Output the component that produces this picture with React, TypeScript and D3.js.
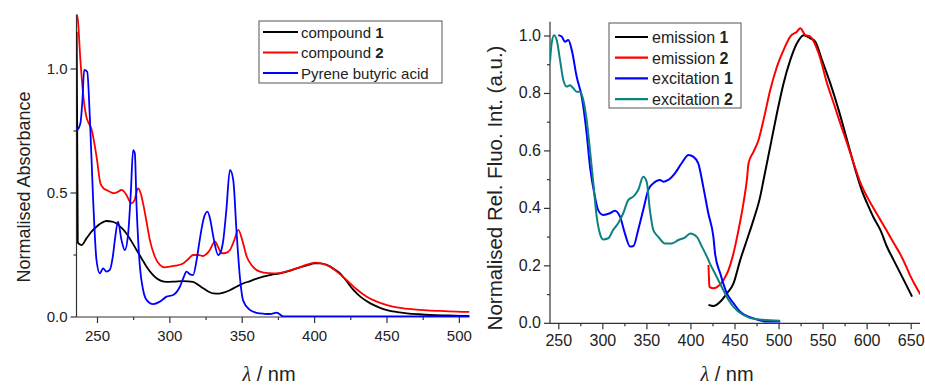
import React from "react";
import * as d3 from "d3";

// ---------- Left panel: absorbance ----------
const absCompound1: [number, number][] = [
  [235.6, 1.15], [236.4, 0.30], [239, 0.29], [242.4, 0.317], [246, 0.345], [249.3, 0.364], [253, 0.38], [256.2, 0.387],
  [260, 0.385], [263, 0.378], [266.5, 0.36], [270, 0.337], [273.5, 0.305], [277, 0.27], [280.5, 0.236], [283.9, 0.203],
  [287.5, 0.175], [290.8, 0.156], [294, 0.146], [297.7, 0.142], [303, 0.143], [309.2, 0.145], [316, 0.142], [319.5, 0.13],
  [323, 0.116], [326.5, 0.103], [330, 0.095], [334, 0.094], [337, 0.098], [341.4, 0.108], [346, 0.122], [350.5, 0.135],
  [355.5, 0.145], [360, 0.155], [364.5, 0.163], [370, 0.17], [376, 0.176], [382, 0.185], [387.6, 0.196], [394, 0.207],
  [400.3, 0.216], [404, 0.216], [408.4, 0.21], [413, 0.195], [417.6, 0.176], [422, 0.145], [426.8, 0.109], [432, 0.08],
  [438.5, 0.055], [444, 0.04], [450, 0.028], [457, 0.02], [463.8, 0.015], [472, 0.011], [479.8, 0.008], [492, 0.006], [507, 0.004],
];
const absCompound2: [number, number][] = [
  [235.7, 1.22], [236.4, 1.2], [238.2, 1.036], [240.5, 0.875], [242.3, 0.808], [244.6, 0.774], [246, 0.755], [247.4, 0.714],
  [249.7, 0.633], [252, 0.539], [254, 0.52], [256.2, 0.512], [258.5, 0.505], [260.8, 0.499], [263.5, 0.503], [266.6, 0.512],
  [268.5, 0.505], [270, 0.492], [273.5, 0.458], [275.5, 0.47], [278, 0.519], [279.8, 0.5], [281.5, 0.458], [284, 0.38],
  [286.2, 0.31], [289.5, 0.245], [293.1, 0.21], [296.5, 0.2], [300, 0.203], [304, 0.207], [309.2, 0.216], [313, 0.235],
  [316, 0.25], [319.5, 0.25], [323, 0.246], [327, 0.265], [331.2, 0.304], [333.5, 0.28], [335.8, 0.257], [338.5, 0.258],
  [341.5, 0.27], [344.5, 0.31], [347.3, 0.351], [350, 0.31], [353, 0.245], [357, 0.205], [362.2, 0.183], [368, 0.177],
  [373.7, 0.176], [380, 0.183], [387.6, 0.196], [394, 0.21], [400.3, 0.219], [405, 0.215], [410.7, 0.203], [416, 0.18],
  [422.2, 0.149], [429, 0.112], [436, 0.082], [443, 0.062], [450, 0.048], [459, 0.037], [468.4, 0.031], [478, 0.027],
  [489, 0.024], [498, 0.022], [507, 0.021],
];
const absPyrene: [number, number][] = [
  [235.8, 0.75], [238.2, 0.781], [239.6, 0.875], [240.8, 0.996], [242.9, 0.989], [244.7, 0.808], [247, 0.472], [249.3, 0.23],
  [251.6, 0.176], [253.9, 0.196], [256.2, 0.183], [258.5, 0.19], [260.5, 0.24], [262, 0.31], [264.2, 0.384], [266.6, 0.31],
  [268.9, 0.27], [271.2, 0.337], [273, 0.499], [274.6, 0.673], [275.8, 0.66], [277, 0.445], [278.2, 0.3], [279.3, 0.203],
  [281.5, 0.11], [283.9, 0.069], [288.5, 0.052], [293.1, 0.062], [297.7, 0.082], [302.3, 0.089], [306.9, 0.122], [309.5, 0.16],
  [311.5, 0.183], [314, 0.172], [316, 0.169], [318.5, 0.23], [320.6, 0.31], [323.5, 0.4], [326, 0.425], [328, 0.39],
  [330, 0.324], [333.4, 0.25], [335, 0.26], [336.9, 0.31], [339, 0.43], [341.5, 0.593], [343.8, 0.552], [346, 0.35],
  [348.4, 0.16], [350.7, 0.065], [355, 0.03], [360, 0.017], [365, 0.013], [369.2, 0.012], [373.8, 0.018], [378.4, 0.002],
  [400, 0.002], [507, 0.002],
];
const absLegend = ["compound ", "compound ", "Pyrene butyric acid"];
const absLegendBold = ["1", "2", ""];
const absColors = ["#000000", "#ff0000", "#0000ff"];
const absXTicks = [250, 300, 350, 400, 450, 500];
const absXMinor = [275, 325, 375, 425, 475];
const absYTicks = [0, 0.5, 1.0];
const absYMinor = [0.25, 0.75];

// ---------- Right panel: fluorescence ----------
const emission1: [number, number][] = [
  [419.9, 0.064], [425.6, 0.06], [433.2, 0.075], [440.8, 0.104], [448.3, 0.139], [455.9, 0.22], [463.5, 0.29], [471, 0.36],
  [478.6, 0.441], [482.4, 0.499], [490, 0.615], [497.6, 0.731], [505.1, 0.835], [512.7, 0.916], [520.3, 0.975], [527.9, 1.003],
  [535.5, 0.992], [541.2, 0.98], [548.8, 0.916], [558.2, 0.835], [567.7, 0.742], [577.2, 0.638], [586.6, 0.534], [594.2, 0.46],
  [599.9, 0.418], [607, 0.37], [615, 0.325], [622, 0.27], [630.1, 0.22], [641.5, 0.151], [651, 0.093],
];
const emission2: [number, number][] = [
  [419.9, 0.203], [420.5, 0.15], [421, 0.127], [425.6, 0.122], [431.3, 0.13], [437, 0.151], [442.7, 0.186], [448.3, 0.244],
  [454, 0.325], [459.7, 0.42], [463.5, 0.5], [465.4, 0.557], [471, 0.597], [476.7, 0.638], [482.4, 0.708], [490, 0.812],
  [497.6, 0.893], [505.1, 0.951], [512.7, 0.998], [520.3, 1.015], [524.1, 1.027], [529.8, 1.003], [535.5, 0.998], [544.9, 0.94],
  [554.5, 0.835], [562, 0.766], [569.5, 0.696], [577.2, 0.627], [584.7, 0.557], [592.3, 0.49], [600, 0.44], [607.4, 0.4],
  [615, 0.36], [622.6, 0.32], [630, 0.28], [637.7, 0.24], [644, 0.2], [649, 0.165], [655, 0.13], [660.5, 0.1],
];
const excitation1: [number, number][] = [
  [249.4, 1.003], [253.3, 0.998], [257, 0.98], [260.8, 0.986], [264.7, 0.951], [270.3, 0.858], [276, 0.789], [281.6, 0.661],
  [285.4, 0.545], [291, 0.441], [294.7, 0.394], [300.4, 0.377], [308, 0.383], [313.6, 0.392], [319.5, 0.371], [325, 0.313],
  [330.9, 0.267], [334.7, 0.269], [340.1, 0.325], [345.8, 0.394], [351.5, 0.464], [357.2, 0.487], [364.8, 0.499], [368.6, 0.493],
  [374.2, 0.499], [381.8, 0.522], [389.4, 0.557], [397.2, 0.586], [402.6, 0.58], [408.3, 0.557], [414, 0.475], [419.7, 0.383],
  [425.5, 0.3], [427.5, 0.24], [433.2, 0.174], [440.8, 0.104], [448.3, 0.07], [455.9, 0.04], [471, 0.017], [486.3, 0.006],
  [501.4, 0.006],
];
const excitation2: [number, number][] = [
  [240, 0.91], [241.9, 0.975], [244.5, 1.003], [247.6, 0.986], [251.4, 0.916], [255.1, 0.847], [259, 0.824], [262.7, 0.829],
  [266.5, 0.818], [270.3, 0.806], [274.1, 0.806], [277.8, 0.777], [281.6, 0.708], [285.4, 0.603], [289.2, 0.487], [293, 0.371],
  [296.6, 0.313], [300.4, 0.292], [306.1, 0.296], [311.7, 0.325], [317.4, 0.348], [323.1, 0.383], [328.8, 0.429], [334.5, 0.441],
  [340.1, 0.464], [345.8, 0.51], [349.7, 0.493], [353.4, 0.394], [357.2, 0.325], [362.9, 0.301], [370.5, 0.278], [378.3, 0.278],
  [385.8, 0.29], [393.4, 0.299], [399.1, 0.313], [406.7, 0.301], [412.4, 0.267], [418.1, 0.232], [422, 0.205], [427, 0.175],
  [436.7, 0.116], [442.7, 0.081], [448, 0.058], [459.4, 0.029], [474.5, 0.014], [501, 0.009],
];
const fluoLegend = ["emission ", "emission ", "excitation ", "excitation "];
const fluoLegendBold = ["1", "2", "1", "2"];
const fluoColors = ["#000000", "#ff0000", "#0000ff", "#0f8080"];
const fluoXTicks = [250, 300, 350, 400, 450, 500, 550, 600, 650];
const fluoXMinor = [275, 325, 375, 425, 475, 525, 575, 625];
const fluoYTicks = [0, 0.2, 0.4, 0.6, 0.8, 1.0];
const fluoYMinor = [0.1, 0.3, 0.5, 0.7, 0.9];

const SANS = "'Liberation Sans', Arial, Helvetica, sans-serif";
const SERIF = "'Liberation Serif', 'Times New Roman', serif";
const AXIS = "#333";

type Panel = {
  x: d3.ScaleLinear<number, number>;
  y: d3.ScaleLinear<number, number>;
  xTicks: number[];
  xMinor: number[];
  yTicks: number[];
  yMinor: number[];
  yFmt: (v: number) => string;
  tickFont: number;
  xLabelDy: number;
  yTitle: string;
  yTitleX: number;
  yTitleY: number;
  yTitleFont: number;
  xTitleX: number;
  xTitleY: number;
};

function Axes({ p }: { p: Panel }) {
  const [x0, x1] = p.x.range();
  const [y0, y1] = p.y.range();
  return (
    <g>
      <line x1={x0} x2={x1} y1={y0} y2={y0} stroke={AXIS} strokeWidth={1.2} />
      <line x1={x0} x2={x0} y1={y0} y2={y1} stroke={AXIS} strokeWidth={1.2} />
      {p.xTicks.map((t) => (
        <g key={"xt" + t}>
          <line x1={p.x(t)} x2={p.x(t)} y1={y0} y2={y0 + 6} stroke={AXIS} strokeWidth={1.2} />
          <text x={p.x(t)} y={y0 + p.xLabelDy} textAnchor="middle" fontSize={p.tickFont} fontFamily={SANS} fill="#222">
            {t}
          </text>
        </g>
      ))}
      {p.xMinor.map((t) => (
        <line key={"xm" + t} x1={p.x(t)} x2={p.x(t)} y1={y0} y2={y0 + 3} stroke={AXIS} strokeWidth={1.2} />
      ))}
      {p.yTicks.map((t) => (
        <g key={"yt" + t}>
          <line x1={x0 - 6} x2={x0} y1={p.y(t)} y2={p.y(t)} stroke={AXIS} strokeWidth={1.2} />
          <text x={x0 - 9} y={p.y(t) + 5} textAnchor="end" fontSize={p.tickFont} fontFamily={SANS} fill="#222">
            {p.yFmt(t)}
          </text>
        </g>
      ))}
      {p.yMinor.map((t) => (
        <line key={"ym" + t} x1={x0 - 3} x2={x0} y1={p.y(t)} y2={p.y(t)} stroke={AXIS} strokeWidth={1.2} />
      ))}
      <text
        transform={`translate(${p.yTitleX},${p.yTitleY}) rotate(-90)`}
        textAnchor="middle"
        fontSize={p.yTitleFont}
        fontFamily={SANS}
        fill="#222"
      >
        {p.yTitle}
      </text>
      <text x={p.xTitleX} y={p.xTitleY} textAnchor="middle" fontSize={20} fontFamily={SANS} fill="#222">
        <tspan fontFamily={SERIF} fontStyle="italic">λ</tspan>
        <tspan> / nm</tspan>
      </text>
    </g>
  );
}

export default function App() {
  // Left panel scales
  const ax = d3.scaleLinear().domain([235.5, 507]).range([76.5, 469.5]);
  const ay = d3.scaleLinear().domain([0, 1.22]).range([317, 317 - 1.22 * 248]);
  // Right panel scales
  const fx = d3.scaleLinear().domain([240, 660]).range([550, 920]);
  const fy = d3.scaleLinear().domain([0, 1.05]).range([323.3, 323.3 - 1.05 * 287.3]);

  const aLine = d3
    .line<[number, number]>()
    .x((d) => ax(d[0]))
    .y((d) => ay(d[1]))
    .curve(d3.curveMonotoneX);
  const fLine = d3
    .line<[number, number]>()
    .x((d) => fx(d[0]))
    .y((d) => fy(d[1]))
    .curve(d3.curveMonotoneX);

  const left: Panel = {
    x: ax,
    y: ay,
    xTicks: absXTicks,
    xMinor: absXMinor,
    yTicks: absYTicks,
    yMinor: absYMinor,
    yFmt: d3.format(".1f"),
    tickFont: 15,
    xLabelDy: 24,
    yTitle: "Normalised Absorbance",
    yTitleX: 30,
    yTitleY: 187,
    yTitleFont: 18,
    xTitleX: 269,
    xTitleY: 381,
  };
  const right: Panel = {
    x: fx,
    y: fy,
    xTicks: fluoXTicks,
    xMinor: fluoXMinor,
    yTicks: fluoYTicks,
    yMinor: fluoYMinor,
    yFmt: d3.format(".1f"),
    tickFont: 16,
    xLabelDy: 23,
    yTitle: "Normalised Rel. Fluo. Int. (a.u.)",
    yTitleX: 502,
    yTitleY: 188,
    yTitleFont: 20.5,
    xTitleX: 727,
    xTitleY: 381,
  };

  const absSeries = [absCompound1, absCompound2, absPyrene];
  const fluoSeries = [emission1, emission2, excitation1, excitation2];

  return (
    <svg
      width={925}
      height={385}
      style={{ position: "absolute", left: 0, top: 0, background: "#fff" }}
      xmlns="http://www.w3.org/2000/svg"
    >
      <rect x={0} y={0} width={925} height={385} fill="#fff" />
      <defs>
        <clipPath id="clipA">
          <rect x={ax.range()[0]} y={0} width={ax.range()[1] - ax.range()[0]} height={ay.range()[0]} />
        </clipPath>
        <clipPath id="clipF">
          <rect x={fx.range()[0]} y={fy.range()[1]} width={fx.range()[1] - fx.range()[0]} height={fy.range()[0] - fy.range()[1]} />
        </clipPath>
      </defs>

      {/* Left panel */}
      <Axes p={left} />
      <g clipPath="url(#clipA)">
        {absSeries.map((s, i) => (
          <path key={i} d={aLine(s) || ""} fill="none" stroke={absColors[i]} strokeWidth={1.8} strokeLinejoin="round" />
        ))}
      </g>
      <g>
        <rect x={259} y={21} width={183} height={62} fill="#fff" stroke="#555" strokeWidth={1} />
        {absLegend.map((lab, i) => (
          <g key={i}>
            <line x1={263} x2={298} y1={32 + i * 20.5} y2={32 + i * 20.5} stroke={absColors[i]} strokeWidth={1.8} />
            <text x={301} y={37.5 + i * 20.5} fontSize={15} fontFamily={SANS} fill="#222">
              {lab}
              <tspan fontWeight="bold">{absLegendBold[i]}</tspan>
            </text>
          </g>
        ))}
      </g>

      {/* Right panel */}
      <Axes p={right} />
      <g clipPath="url(#clipF)">
        {fluoSeries.map((s, i) => (
          <path key={i} d={fLine(s) || ""} fill="none" stroke={fluoColors[i]} strokeWidth={2} strokeLinejoin="round" />
        ))}
      </g>
      <g>
        <rect x={609} y={23} width={132} height={85} fill="#fff" stroke="#555" strokeWidth={1} />
        {fluoLegend.map((lab, i) => (
          <g key={i}>
            <line x1={615} x2={648} y1={37 + i * 20.7} y2={37 + i * 20.7} stroke={fluoColors[i]} strokeWidth={2.2} />
            <text x={652} y={43 + i * 20.7} fontSize={16} fontFamily={SANS} fill="#222">
              {lab}
              <tspan fontWeight="bold">{fluoLegendBold[i]}</tspan>
            </text>
          </g>
        ))}
      </g>
    </svg>
  );
}
